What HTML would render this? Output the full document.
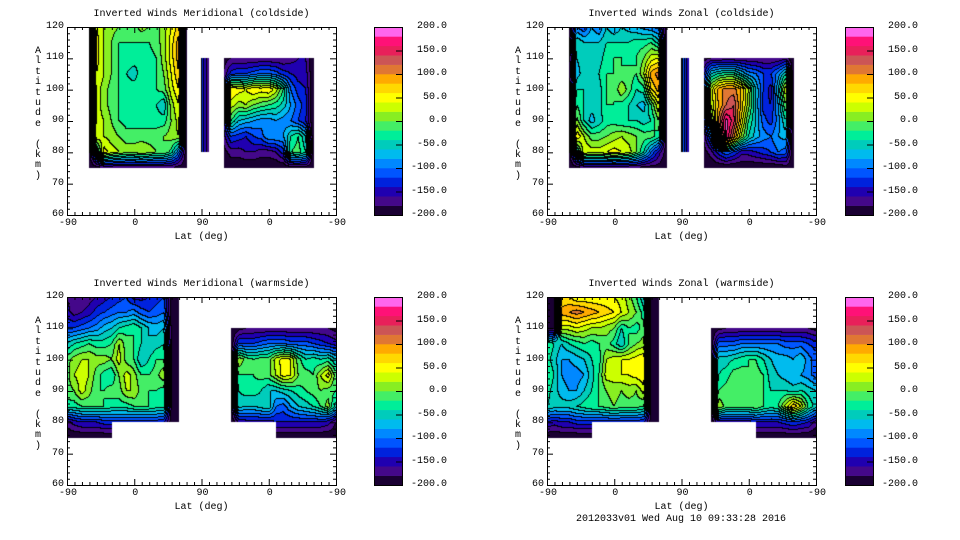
<!DOCTYPE html>
<html><head><meta charset="utf-8">
<style>
body{margin:0;background:#fff;width:960px;height:540px;overflow:hidden;position:relative;font-family:"Liberation Mono",monospace;}
.t{position:absolute;font-size:10px;color:#000;white-space:pre;line-height:10px}
canvas{position:absolute}
svg{position:absolute;left:0;top:0}
</style></head><body>
<div id="root"></div>
<svg id="ax" width="960" height="540"></svg>
<script>
const _=null;
const colorBands=["#1a0033","#44088a","#2000b0","#0022dd","#0055ff","#0088ff","#00bbee","#00ccbb","#00ee99","#44ee66","#88ee22","#ccff00","#ffff00","#ffd800","#ffaa00","#e07733","#cc5555","#e8205a","#ff1177","#ff66ee"];
const cbarLabels=["200.0","150.0","100.0","50.0","0.0","-50.0","-100.0","-150.0","-200.0"];
const xTickLabels=["-90","0","90","0","-90"];
const yTickLabels=["60","70","80","90","100","110","120"];
const titles=["Inverted Winds Meridional (coldside)","Inverted Winds Zonal (coldside)","Inverted Winds Meridional (warmside)","Inverted Winds Zonal (warmside)"];
function N(k){return Array(k).fill(_);}
// rows: altitude 120,115,...,75 ; columns u=0..360 step 10 (37 nodes)
const merCold=[
N(3).concat([-200,40,20,10,0,-10,-10,10,0,-10,10,40,70,-190,_],N(19)),
N(3).concat([-200,50,20,0,-20,-20,-20,-20,-20,-10,10,50,90,-190,_],N(19)),
N(3).concat([-200,50,20,0,-20,-30,-30,-40,-30,-20,10,50,90,-190,_,-120,-170,_,-190,-180,-180,-180,-180,-180,-180,-180,-180,-170,-160,-160,-200],N(3)),
N(3).concat([-200,40,20,0,-20,-40,-50,-30,-30,-20,0,40,80,-190,_,-120,-170,_,-180,-130,-120,-120,-110,-100,-100,-110,-130,-140,-150,-150,-200],N(3)),
N(3).concat([-200,30,10,-10,-20,-30,-30,-20,-30,-20,-10,30,60,-190,_,-120,-170,_,-160,60,50,40,60,50,60,30,-20,-100,-130,-140,-200],N(3)),
N(3).concat([-200,30,10,-10,-20,-30,-30,-30,-30,-40,-60,10,40,-190,_,-120,-170,_,-150,30,10,20,0,-10,-20,-30,-50,-80,-110,-130,-200],N(3)),
N(3).concat([-200,30,20,0,-20,-30,-30,-30,-30,-30,-30,0,30,-190,_,-120,-170,_,-160,-20,-60,-70,-80,-90,-90,-80,-90,-100,-120,-140,-200],N(3)),
N(3).concat([-200,40,20,10,0,-10,-10,-10,-10,-10,0,10,20,-190,_,-120,-170,_,-170,-120,-130,-140,-120,-110,-80,-80,-80,-40,-20,-60,-200],N(3)),
N(3).concat([-200,-60,50,30,20,10,10,20,10,0,0,-30,-100,-190,_,-120,-170,_,-190,-170,-170,-160,-160,-170,-170,-160,-130,-20,-10,-40,-200],N(3)),
N(3).concat([-200,-190,-180,-180,-180,-180,-180,-180,-180,-180,-180,-180,-190,-200,_,_,_,_,-200,-200,-200,-200,-200,-200,-200,-200,-200,-190,-190,-190,-200],N(3))
];
const zonCold=[
N(3).concat([-200,-100,-120,-80,-100,-60,-80,-60,-70,-80,-90,-100,-110,-190,_],N(19)),
N(3).concat([-200,-40,-60,-60,-60,-40,-40,-40,-40,-30,-30,-20,-50,-190,_],N(19)),
N(3).concat([-200,-60,-50,-60,-50,-30,-20,-20,-30,-20,0,30,40,-190,_,-80,-160,_,-190,-180,-180,-180,-180,-180,-180,-180,-180,-180,-180,-170,-200],N(3)),
N(3).concat([-200,-70,-50,-50,-40,-20,-20,-20,-10,-20,20,90,110,-190,_,-80,-160,_,-150,-60,-40,-30,-30,-60,-90,-100,-120,-120,-90,-40,-200],N(3)),
N(3).concat([-200,-40,-40,-50,-50,-20,-20,20,-10,-40,-30,60,90,-190,_,-80,-160,_,-120,30,90,110,110,80,20,-60,-120,-150,-60,40,-200],N(3)),
N(3).concat([-200,-20,-40,-50,-50,-20,-20,-30,-40,-60,-70,-20,40,-190,_,-80,-160,_,-130,20,80,120,140,80,10,-60,-130,-140,-80,0,-200],N(3)),
N(3).concat([-200,10,-40,-70,-50,-30,-30,-40,-40,-40,-50,-40,0,-190,_,-80,-160,_,-150,-20,100,190,150,60,-20,-60,-110,-130,-90,-40,-200],N(3)),
N(3).concat([-200,60,20,-10,-10,0,10,20,10,0,-10,-10,-30,-190,_,-80,-160,_,-180,-100,50,190,110,20,-40,-70,-90,-100,-80,-70,-200],N(3)),
N(3).concat([-200,-60,40,30,30,40,50,40,30,0,-40,-100,-150,-190,_,-80,-160,_,-190,-170,-130,-100,-120,-150,-150,-140,-130,-120,-100,-110,-200],N(3)),
N(3).concat([-200,-190,-180,-180,-180,-180,-180,-180,-180,-180,-190,-190,-190,-200,_,_,_,_,-200,-200,-200,-200,-200,-200,-200,-200,-200,-200,-200,-190,-200],N(3))
];
const merWarm=[
[-160,-180,-180,-170,-160,-150,-140,-130,-120,-150,-150,-140,-130,-120,-190,-200].concat(N(21)),
[-150,-170,-160,-150,-130,-120,-110,-100,-100,-90,-110,-120,-110,-100,-190,-200].concat(N(21)),
[-120,-120,-110,-100,-90,-70,-60,-40,-30,-20,-40,-60,-70,-60,-180,-200].concat(N(6),[-200,-190,-180,-180,-180,-180,-180,-180,-180,-180,-180,-180,-180,-180,-190]),
[-60,-40,-30,-20,-30,-30,-20,20,-10,-20,-40,-60,-50,-40,-180,-200].concat(N(6),[-200,-120,-120,-120,-110,-100,-100,-100,-110,-110,-110,-120,-130,-140,-150]),
[-10,10,20,20,10,10,0,30,-10,-20,-60,-40,-20,-20,-180,-200].concat(N(6),[-190,20,-10,-20,-10,-10,30,50,40,-10,-40,-30,-40,-30,-60]),
[-10,20,30,20,-10,-30,-40,0,30,10,-20,-20,-10,20,-180,-200].concat(N(6),[-190,-20,-20,-20,-10,-10,20,50,40,0,-10,-20,20,50,-10]),
[-10,0,30,10,-20,-20,-10,-10,20,20,-10,-20,-20,-30,-180,-200].concat(N(6),[-190,-40,-30,-30,-40,-60,-60,-50,-40,-30,-20,-10,0,-10,-20]),
[-30,-30,-20,-20,-20,-20,-30,-30,-30,-20,-20,-20,-30,-30,-180,-200].concat(N(6),[-190,-50,-60,-60,-50,-40,-100,-110,-80,-60,-50,-40,-20,10,-50]),
[-170,-150,-140,-140,-140,-130,-130,-130,-130,-130,-130,-130,-130,-140,-190,-200].concat(N(6),[-200,-160,-150,-150,-150,-150,-140,-140,-140,-140,-140,-140,-140,-150,-180]),
[-200,-200,-200,-200,-200,-200,-200].concat(N(21),[-200,-200,-200,-200,-200,-200,-200,-200,-200])
];
const zonWarm=[
[-200,-200,60,60,40,40,40,40,40,40,30,10,-20,-60,-190,-200].concat(N(21)),
[-200,-200,90,100,110,100,90,80,70,60,40,20,0,-30,-190,-200].concat(N(21)),
[-180,-190,30,30,40,30,20,20,10,0,-40,-20,-30,-10,-190,-200].concat(N(6),[-200,-190,-180,-180,-180,-180,-180,-180,-180,-180,-180,-180,-180,-180,-190]),
[-20,-40,-60,-40,-30,-20,-30,-20,-10,-30,-60,-20,0,10,-190,-200].concat(N(6),[-200,-110,-110,-110,-100,-100,-100,-100,-100,-100,-110,-110,-110,-120,-130]),
[-30,-50,-80,-80,-70,-60,-40,-30,20,30,40,40,50,60,-190,-200].concat(N(6),[-190,-50,-50,-40,-30,-20,-20,-40,-60,-70,-70,-80,-60,-90,-110]),
[-20,-40,-80,-90,-90,-80,-50,-20,30,30,40,40,50,60,-190,-200].concat(N(6),[-190,-40,-30,-10,-10,-20,-10,-20,-50,-60,-70,-80,-80,-90,-110]),
[-30,-50,-70,-80,-80,-60,-40,-20,0,10,0,10,0,30,-190,-200].concat(N(6),[-190,-20,-10,0,0,-10,-10,-20,-40,-40,-40,-50,-40,-50,-60]),
[-40,-50,-50,-50,-40,-30,-20,-20,-10,0,-10,-10,-10,-20,-190,-200].concat(N(6),[-190,20,-10,-10,-10,-10,0,-20,-30,-20,30,80,40,-20,-50]),
[-140,-150,-140,-140,-130,-130,-130,-130,-130,-130,-130,-130,-130,-140,-190,-200].concat(N(6),[-200,-150,-150,-150,-150,-150,-140,-140,-140,-140,-130,-120,-130,-140,-170]),
[-200,-200,-200,-200,-200,-200,-200].concat(N(21),[-200,-200,-200,-200,-200,-200,-200,-200,-200])
];
const panelData=[merCold,zonCold,merWarm,zonWarm];
const panels=[{x:67,y:27,cb:374},{x:547,y:27,cb:845},{x:67,y:297,cb:374},{x:547,y:297,cb:845}];
const W=269,H=188;
const xScale=u=>u/360*W, yScale=a=>(120-a)/60*H;
const root=document.getElementById('root');
const svg=document.getElementById('ax');
const NS="http://www.w3.org/2000/svg";
function txt(x,y,s,cls,align,name){const d=document.createElement('div');d.className='t';d.textContent=s;d.style.left=x+'px';d.style.top=y+'px';if(align==='r'){d.style.transform='translateX(-100%)';}else if(align==='c'){d.style.transform='translateX(-50%)';}


root.appendChild(d);return d;}
function line(x1,y1,x2,y2,name){const l=document.createElementNS(NS,'line');l.setAttribute('x1',x1);l.setAttribute('y1',y1);l.setAttribute('x2',x2);l.setAttribute('y2',y2);l.setAttribute('stroke','#000');l.setAttribute('stroke-width','1');


svg.appendChild(l);}
function band(v){let b=Math.floor((v+200)/20);return Math.max(0,Math.min(19,b));}
panelData.forEach((grid,pi)=>{
  const P=panels[pi];
  const cv=document.createElement('canvas');cv.width=W;cv.height=H;cv.style.left=P.x+'px';cv.style.top=P.y+'px';
  
  
  root.appendChild(cv);
  const ctx=cv.getContext('2d');const img=ctx.createImageData(W,H);
  const B=new Int8Array(W*H).fill(-1);
  for(let py=0;py<H;py++){const alt=120-(py+0.5)/H*60;const fj=(120-alt)/5;const j=Math.floor(fj);if(j<0||j>=9)continue;const ty=fj-j;
    for(let px=0;px<W;px++){const u=(px+0.5)/W*360;const fi=u/10;const i=Math.floor(fi);if(i<0||i>=36)continue;const tx=fi-i;
      const a=grid[j][i],b=grid[j][i+1],c=grid[j+1][i],d=grid[j+1][i+1];
      if(a===_||b===_||c===_||d===_)continue;
      const v=a*(1-tx)*(1-ty)+b*tx*(1-ty)+c*(1-tx)*ty+d*tx*ty;
      B[py*W+px]=band(v);}}
  for(let k=0;k<W*H;k++){let r=255,g=255,bl=255;const bb=B[k];
    if(bb>=0){const px=k%W;let edge=false;
      if(px<W-1&&B[k+1]>=0&&B[k+1]!==bb)edge=true;
      if(k+W<W*H&&B[k+W]>=0&&B[k+W]!==bb)edge=true;
      if(edge){r=g=bl=0;}else{const h=colorBands[bb];r=parseInt(h.substr(1,2),16);g=parseInt(h.substr(3,2),16);bl=parseInt(h.substr(5,2),16);}}
    img.data[k*4]=r;img.data[k*4+1]=g;img.data[k*4+2]=bl;img.data[k*4+3]=255;}
  ctx.putImageData(img,0,0);
  const f=document.createElementNS(NS,'rect');f.setAttribute('x',P.x+0.5);f.setAttribute('y',P.y+0.5);f.setAttribute('width',W);f.setAttribute('height',H);f.setAttribute('fill','none');f.setAttribute('stroke','#000');
  
  
  svg.appendChild(f);
  for(let a=60;a<=120;a+=2){const y=P.y+0.5+yScale(a);const L=(a%10===0)?6:3;line(P.x,y,P.x+L,y,'y-tick');line(P.x+W,y,P.x+W-L,y,'y-tick');}
  for(let u=0;u<=360;u+=10){const x=P.x+0.5+xScale(u);const L=(u%90===0)?6:3;line(x,P.y+H,x,P.y+H-L,'x-tick');line(x,P.y,x,P.y+L,'x-tick');}
  yTickLabels.forEach((s,i)=>txt(P.x-3,P.y+yScale(60+10*i)-5,s,'','r','y-tick-label'));
  xTickLabels.forEach((s,i)=>txt(P.x+xScale(90*i)+1,P.y+H+4,s,'','c','x-tick-label'));
  txt(P.x+W/2,P.y+H+18,"Lat (deg)",'','c','x-axis-title');
  txt(P.x+W/2,P.y-17,titles[pi],'','c','panel-title');
  const yt=txt(P.x-32,P.y+20,"A\nl\nt\ni\nt\nu\nd\ne\n \n(\nk\nm\n)",'','l','y-axis-title');yt.style.lineHeight='10.4px';
  const cbh=H/20;
  colorBands.forEach((c,i)=>{const r=document.createElementNS(NS,'rect');r.setAttribute('x',P.cb);r.setAttribute('y',P.y+H-(i+1)*cbh);r.setAttribute('width',29);r.setAttribute('height',cbh+0.3);r.setAttribute('fill',c);
    
    
    svg.appendChild(r);});
  const cf=document.createElementNS(NS,'rect');cf.setAttribute('x',P.cb+0.5);cf.setAttribute('y',P.y+0.5);cf.setAttribute('width',28);cf.setAttribute('height',H);cf.setAttribute('fill','none');cf.setAttribute('stroke','#000');
  
  
  svg.appendChild(cf);
  cbarLabels.forEach((s,i)=>{const y=P.y+i*H/8;if(i>0&&i<8)line(P.cb+22,y+0.5,P.cb+29,y+0.5,'colorbar-tick');txt(P.cb+73,y-5,s,'','r','colorbar-label');});
});
txt(681,515,"2012033v01 Wed Aug 10 09:33:28 2016",'','c','timestamp-footer');
</script>
</body></html>
